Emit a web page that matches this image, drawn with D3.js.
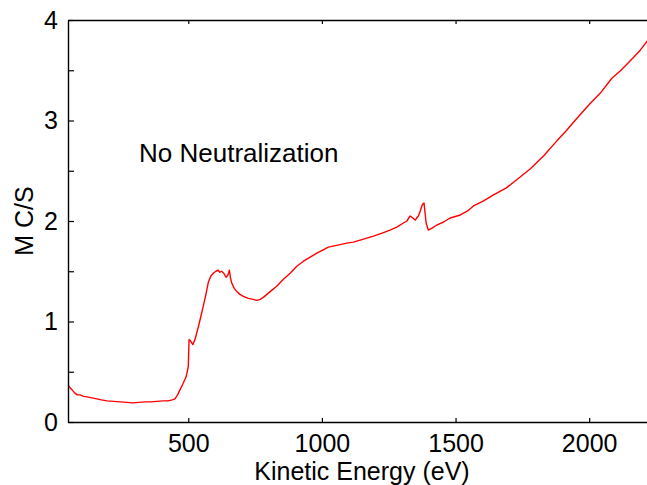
<!DOCTYPE html>
<html lang="en">
<head>
<meta charset="UTF-8">
<script src="https://d3js.org/d3.v7.min.js"></script>
<style>
  body { margin: 0; background: #fff; }
  text { font-family: "Liberation Sans", Arial, sans-serif; }
</style>
</head>
<body>
<script>
// spectrum (kinetic energy in eV, counts in M C/S)
let energy = [50, 58, 65, 75, 85, 95, 108, 120, 140, 158, 175, 196, 220, 245, 270, 293, 315, 338, 360, 383, 405, 424, 440, 450,
  460, 469, 480, 492, 500, 503, 510, 517, 525, 538, 547, 556, 566, 575, 584, 594, 603, 612, 618, 625, 633, 641, 648, 654, 658, 663,
  672, 681, 693, 706, 725, 743, 756, 769, 781, 794, 812, 831, 856, 881, 906, 931, 956, 981, 1003, 1024, 1060, 1093, 1118, 1143,
  1168, 1193, 1225, 1255, 1280, 1305, 1318, 1330, 1340, 1349, 1355, 1361, 1368, 1374, 1378, 1382, 1386, 1390, 1398, 1412, 1430,
  1455, 1480, 1518, 1545, 1567, 1605, 1642, 1690, 1729, 1780, 1830, 1880, 1915, 1947, 2000, 2041, 2085, 2115, 2141, 2170, 2191,
  2217, 2250];
let counts = [0.37, 0.34, 0.32, 0.29, 0.27, 0.27, 0.255, 0.25, 0.24, 0.23, 0.22, 0.21, 0.205, 0.2, 0.195, 0.19, 0.195, 0.2, 0.2,
  0.205, 0.21, 0.21, 0.22, 0.23,
  0.27, 0.32, 0.38, 0.45, 0.55, 0.82, 0.8, 0.77, 0.82, 0.95, 1.05, 1.15, 1.27, 1.39, 1.45, 1.48, 1.5, 1.51, 1.49, 1.5, 1.48, 1.44,
  1.46, 1.51, 1.43, 1.38,
  1.33, 1.3, 1.27, 1.25, 1.23, 1.22, 1.21, 1.22, 1.24, 1.27, 1.31, 1.35, 1.42, 1.48, 1.55, 1.6, 1.64, 1.68, 1.71, 1.74, 1.76, 1.78,
  1.79, 1.81,
  1.83, 1.85, 1.88, 1.91, 1.94, 1.98, 2.0, 2.05, 2.03, 2.01, 2.03, 2.05, 2.1, 2.15, 2.17, 2.18, 2.08, 1.98, 1.91, 1.93, 1.96,
  1.99, 2.03, 2.06, 2.1, 2.15, 2.2, 2.26, 2.33, 2.41, 2.52, 2.65, 2.8, 2.9, 3.0, 3.16, 3.27, 3.42, 3.49, 3.56, 3.64, 3.7,
  3.79, 3.87];
let xTicks = [500, 1000, 1500, 2000];
let yTicks = [0, 0.5, 1, 1.5, 2, 2.5, 3, 3.5, 4];
let annotation = "No Neutralization";
let xTitle = "Kinetic Energy (eV)";
let yTitle = "M C/S";

let width = 647, height = 485;
let plotLeft = 68, plotTop = 20, plotRight = 656, plotBottom = 422;

let svg = d3.select("body").append("svg")
  .attr("width", width)
  .attr("height", height);

let x = d3.scaleLinear().domain([50, 2250]).range([plotLeft, plotRight]);
let y = d3.scaleLinear().domain([0, 4]).range([plotBottom, plotTop]);

svg.append("clipPath").attr("id", "plotclip")
  .append("rect")
  .attr("x", plotLeft).attr("y", plotTop)
  .attr("width", plotRight - plotLeft).attr("height", plotBottom - plotTop);

// the spectrum
let line = d3.line()
  .x((d, i) => x(energy[i]))
  .y(d => y(d));

svg.append("path")
  .datum(counts)
  .attr("clip-path", "url(#plotclip)")
  .attr("fill", "none")
  .attr("stroke", "#ff0000")
  .attr("stroke-width", 1.4)
  .attr("stroke-linejoin", "round")
  .attr("d", line);

// axes, ticks pointing inwards
let fontSize = 25;

let xAxisB = svg.append("g")
  .attr("transform", `translate(0,${plotBottom})`)
  .call(d3.axisBottom(x).tickValues(xTicks).tickSizeInner(-4).tickSizeOuter(0).tickPadding(12)
    .tickFormat(d3.format("d")));
let xAxisT = svg.append("g")
  .attr("transform", `translate(0,${plotTop})`)
  .call(d3.axisTop(x).tickValues(xTicks).tickSizeInner(-4).tickSizeOuter(0).tickFormat(""));
let yAxisL = svg.append("g")
  .attr("transform", `translate(${plotLeft},0)`)
  .call(d3.axisLeft(y).tickValues(yTicks).tickSizeInner(-6).tickSizeOuter(0).tickPadding(10)
    .tickFormat(d => Number.isInteger(d) ? d : ""));
let yAxisR = svg.append("g")
  .attr("transform", `translate(${plotRight},0)`)
  .call(d3.axisRight(y).tickValues(yTicks).tickSizeInner(-6).tickSizeOuter(0).tickFormat(""));

[xAxisB, xAxisT, yAxisL, yAxisR].forEach(a => {
  a.select(".domain").attr("stroke", "#000").attr("stroke-width", 1.4);
  a.selectAll(".tick line").attr("stroke", "#000").attr("stroke-width", 1.2);
  a.selectAll(".tick text")
    .attr("fill", "#000")
    .style("font-size", fontSize + "px");
});

svg.append("text")
  .attr("x", 139)
  .attr("y", 162)
  .style("font-size", "26px")
  .attr("fill", "#000")
  .text(annotation);

svg.append("text")
  .attr("x", (plotLeft + plotRight) / 2)
  .attr("y", 480)
  .attr("text-anchor", "middle")
  .style("font-size", fontSize + "px")
  .attr("fill", "#000")
  .text(xTitle);

svg.append("text")
  .attr("transform", `translate(33,${(plotTop + plotBottom) / 2}) rotate(-90)`)
  .attr("text-anchor", "middle")
  .style("font-size", fontSize + "px")
  .attr("fill", "#000")
  .text(yTitle);
</script>
</body>
</html>
